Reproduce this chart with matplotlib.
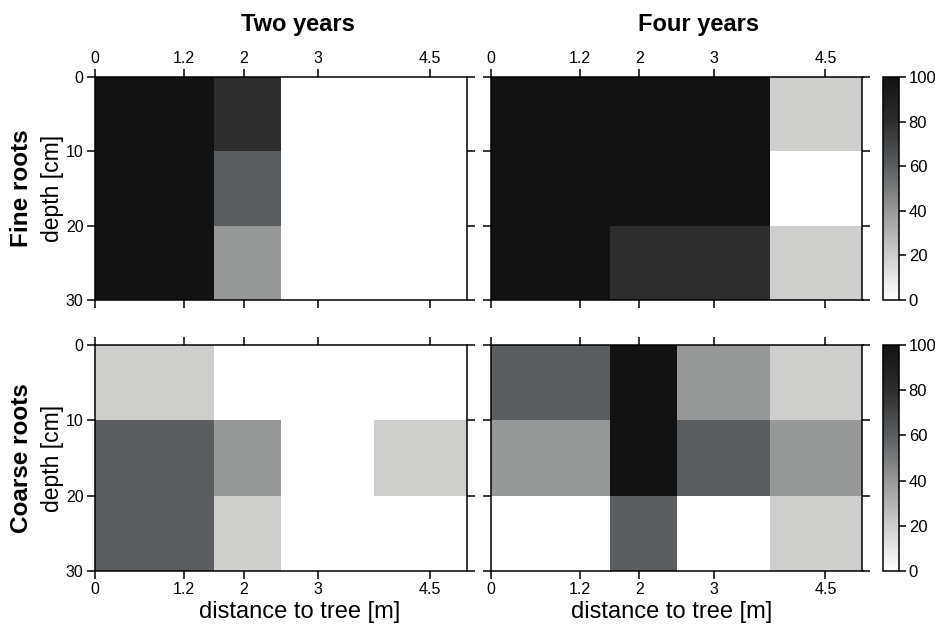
import numpy as np
from matplotlib import pyplot as plt
from matplotlib.colors import LinearSegmentedColormap

plt.rcParams['font.family'] = ['Liberation Sans', 'DejaVu Sans']

# cell edges: distance to tree [m] and soil depth [cm]
x_edges = [0, 1.6, 2.5, 3.75, 5]
depth_edges = [0, 10, 20, 30]
x_ticks = [0, 1.2, 2, 3, 4.5]
x_ticklabels = ['0', '1.2', '2', '3', '4.5']
depth_ticks = [0, 10, 20, 30]

col_titles = ['Two years', 'Four years']
row_titles = ['Fine roots', 'Coarse roots']

# root occurrence [%], rows = depth layers, cols = distance classes
fine_two = [[100, 80, 0, 0],
            [100, 60, 0, 0],
            [100, 40, 0, 0]]
fine_four = [[100, 100, 100, 20],
             [100, 100, 100, 0],
             [100, 80, 80, 20]]
coarse_two = [[20, 0, 0, 0],
              [60, 40, 0, 20],
              [60, 20, 0, 0]]
coarse_four = [[60, 100, 40, 20],
               [40, 100, 60, 40],
               [0, 60, 0, 20]]

cmap = LinearSegmentedColormap.from_list(
    'roots', [(0.0, '#ffffff'), (0.2, '#cececc'), (0.4, '#979898'),
              (0.6, '#5a5e61'), (0.8, '#2d2d2d'), (1.0, '#121212')])

fig = plt.figure(figsize=(9.35, 6.29), dpi=100)
W, H = 935, 629

def px_axes(x0, y0, x1, y1):
    return fig.add_axes([x0 / W, 1 - y1 / H, (x1 - x0) / W, (y1 - y0) / H])

rows_px = [(77, 300), (345, 571)]
cols_px = [(94.7, 466.7), (490.7, 862.5)]
data = [[fine_two, fine_four], [coarse_two, coarse_four]]

for r, (y0, y1) in enumerate(rows_px):
    for c, (x0, x1) in enumerate(cols_px):
        ax = px_axes(x0, y0, x1, y1)
        mesh = ax.pcolormesh(x_edges, depth_edges, np.array(data[r][c]),
                             cmap=cmap, vmin=0, vmax=100)
        ax.set_xlim(0, 5)
        ax.set_ylim(30, 0)
        ax.set_xticks(x_ticks)
        ax.set_yticks(depth_ticks)
        for s in ax.spines.values():
            s.set_linewidth(1.1)
        ax.tick_params(direction='out', length=6, width=1.1, labelsize=11.5,
                       pad=2, top=True, right=True, bottom=True, left=True)
        ax.tick_params(axis='x', labeltop=(r == 0), labelbottom=(r == 1))
        if c == 0:
            ax.set_yticklabels([str(t) for t in depth_ticks])
        else:
            ax.set_yticklabels([])
        ax.set_xticklabels(x_ticklabels)
        if r == 1:
            fig.text((x0 + x1) / 2 / W + (19 if c == 0 else -5) / W, 1 - 612 / H,
                     'distance to tree [m]', ha='center', va='center', fontsize=17)
        if r == 0:
            fig.text((x0 + x1) / 2 / W + (17 if c == 0 else 22) / W, 1 - 25 / H,
                     col_titles[c], ha='center', va='center', fontsize=17,
                     fontweight='bold')

    cax = px_axes(883, y0, 899, y1)
    cb = fig.colorbar(mesh, cax=cax, ticks=[0, 20, 40, 60, 80, 100])
    cb.outline.set_linewidth(1.1)
    cax.tick_params(direction='out', length=5, width=1.1, labelsize=12, pad=2)

    yc = 1 - (y0 + y1) / 2 / H
    fig.text(22 / W, yc, row_titles[r], rotation=90, ha='center', va='center',
             fontsize=17.5, fontweight='bold')
    fig.text(53 / W, yc, 'depth [cm]', rotation=90, ha='center', va='center',
             fontsize=16.5)

plt.savefig('out.png', dpi=100)
